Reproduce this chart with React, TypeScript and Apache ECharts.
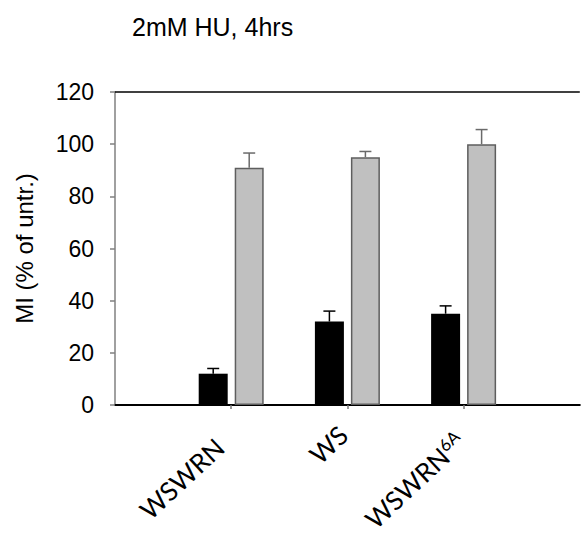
import React, { useEffect, useRef } from "react";
import * as echarts from "echarts";

const categories = ["", "WSWRN", "WS", "WSWRN6A", ""];
const blackValues = [null, 12, 32, 35, null];
const blackErrors = [null, 2, 4, 3, null];
const grayValues = [null, 91, 95, 100, null];
const grayErrors = [null, 5.6, 2.2, 5.6, null];
const yTicks = { min: 0, max: 120, interval: 20 };
const titleText = "2mM HU, 4hrs";
const yTitle = "MI (% of untr.)";

const BAR_W = 29;
const BAR_GAP_PX = 7;

function errorData(values: (number | null)[], errs: (number | null)[]) {
  const out: any[] = [];
  values.forEach((v, i) => {
    if (v != null && errs[i] != null) out.push([i, v, v + (errs[i] as number)]);
  });
  return out;
}

function makeErrorRender(offset: number, color: string) {
  return (params: any, api: any) => {
    const idx = api.value(0);
    const base = api.coord([idx, api.value(1)]);
    const top = api.coord([idx, api.value(2)]);
    const x = base[0] + offset;
    const cap = 6;
    return {
      type: "group",
      children: [
        {
          type: "line",
          shape: { x1: x, y1: base[1], x2: x, y2: top[1] },
          style: { stroke: color, lineWidth: 1.5 },
        },
        {
          type: "line",
          shape: { x1: x - cap, y1: top[1], x2: x + cap, y2: top[1] },
          style: { stroke: color, lineWidth: 1.5 },
        },
      ],
    };
  };
}

export default function App() {
  const ref = useRef<HTMLDivElement>(null);
  useEffect(() => {
    if (!ref.current) return;
    const chart = echarts.init(ref.current, null, { renderer: "svg" });
    const off = (BAR_W + BAR_GAP_PX) / 2;
    const lab = { fontFamily: "Lato, sans-serif", fontSize: 26, color: "#000" };
    chart.setOption({
      animation: false,
      backgroundColor: "#fff",
      title: {
        text: titleText,
        left: 127,
        top: 9,
        textStyle: {
          fontFamily: "Liberation Sans, Arial, sans-serif",
          fontSize: 25,
          fontWeight: "normal",
          color: "#000",
        },
      },
      grid: { left: 115, right: -7, top: 92, bottom: 140 },
      xAxis: {
        type: "category",
        data: categories,
        boundaryGap: false,
        axisLine: { lineStyle: { color: "#000", width: 2 } },
        axisTick: {
          show: true,
          length: 4,
          interval: (i: number) => i > 0 && i < categories.length - 1,
          lineStyle: { color: "#777", width: 1.5 },
        },
        axisLabel: {
          interval: 0,
          rotate: 43,
          margin: 30,
          formatter: (v: string) => {
            if (!v) return "";
            if (v === "WSWRN6A") return "{b|WSWRN}{s|6A}";
            if (v === "WS") return "{w|WS}";
            return "{a|" + v + "}";
          },
          rich: {
            a: { ...lab, padding: [0, 14, 4, 0] },
            w: { ...lab, padding: [0, 0, 12, 0] },
            b: { ...lab },
            s: {
              fontFamily: "Lato, sans-serif",
              fontSize: 17,
              color: "#000",
              verticalAlign: "top",
              padding: [0, 4, 12, 0],
            },
          },
        },
        splitLine: { show: false },
      },
      yAxis: {
        type: "value",
        min: yTicks.min,
        max: yTicks.max,
        interval: yTicks.interval,
        name: yTitle,
        nameLocation: "middle",
        nameRotate: 90,
        nameGap: 79,
        nameTextStyle: {
          fontFamily: "Liberation Sans, Arial, sans-serif",
          fontSize: 24,
          color: "#000",
        },
        axisLine: { show: true, lineStyle: { color: "#808080", width: 1.5 } },
        axisTick: { show: true, length: 5, lineStyle: { color: "#808080", width: 1.5 } },
        axisLabel: {
          margin: 21,
          fontFamily: "Liberation Sans, Arial, sans-serif",
          fontSize: 23,
          color: "#000",
        },
        splitLine: { show: false },
      },
      series: [
        {
          type: "bar",
          data: blackValues,
          barWidth: BAR_W,
          barGap: (BAR_GAP_PX / BAR_W) * 100 + "%",
          itemStyle: { color: "#000" },
          markLine: {
            silent: true,
            symbol: "none",
            label: { show: false },
            lineStyle: { color: "#000", width: 1.5, type: "solid" },
            data: [{ yAxis: yTicks.max }],
          },
        },
        {
          type: "bar",
          data: grayValues,
          barWidth: BAR_W,
          itemStyle: { color: "#c0c0c0", borderColor: "#5e5e5e", borderWidth: 1.5 },
        },
        {
          type: "custom",
          data: errorData(blackValues, blackErrors),
          renderItem: makeErrorRender(-off, "#000"),
          z: 5,
        },
        {
          type: "custom",
          data: errorData(grayValues, grayErrors),
          renderItem: makeErrorRender(off, "#6a6a6a"),
          z: 5,
        },
      ],
    });
    return () => chart.dispose();
  }, []);
  return (
    <div
      ref={ref}
      style={{ position: "fixed", left: 0, top: 0, width: 582, height: 545 }}
    />
  );
}
